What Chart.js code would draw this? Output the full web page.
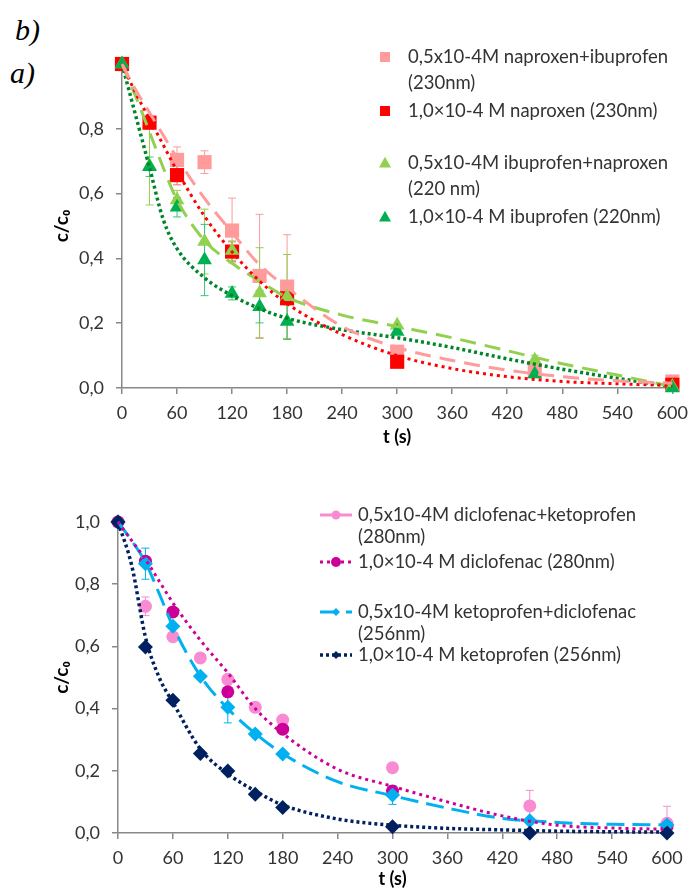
<!DOCTYPE html>
<html><head><meta charset="utf-8">
<script src="https://cdn.jsdelivr.net/npm/chart.js@4.4.1/dist/chart.umd.min.js"></script>
<style>
html,body{margin:0;padding:0;background:#fff;}
body{width:696px;height:888px;position:relative;overflow:hidden;}
#c1{position:absolute;left:0;top:0;}
#c2{position:absolute;left:0;top:460px;}
.lab{position:absolute;font-family:"Liberation Serif","Times New Roman",serif;font-style:italic;font-size:30px;line-height:30px;color:#000;}
</style></head><body>
<div class="lab" style="left:15px;top:15px">b)</div>
<div class="lab" style="left:10px;top:58px">a)</div>
<canvas id="c1" width="696" height="460"></canvas>
<canvas id="c2" width="696" height="428"></canvas>
<script>
// ---------- DATA ----------
const times = [0, 30, 60, 90, 120, 150, 180, 300, 450, 600];
const xTicks = [0, 60, 120, 180, 240, 300, 360, 420, 480, 540, 600];
const yTicks = [0.0, 0.2, 0.4, 0.6, 0.8, 1.0];
const trendT = [0, 15, 30, 45, 60, 90, 120, 150, 180, 240, 300, 360, 420, 480, 540, 600];

// top chart (a)
const napIbuMix    = [1.0, null, 0.704, 0.697, 0.486, 0.346, 0.313, 0.112, 0.052, 0.02];
const napIbuMixErr = [0, 0, 0.04, 0.035, 0.10, 0.19, 0.16, 0, 0, 0];
const naproxen     = [1.0, 0.819, 0.657, null, 0.421, null, 0.277, 0.081, null, 0.01];
const naproxenErr  = [0, 0.02, 0.03, 0, 0.03, 0, 0.02, 0, 0, 0];
const ibuNapMix    = [1.0, 0.685, 0.58, 0.452, 0.424, 0.293, 0.282, 0.194, 0.086, 0.005];
const ibuNapMixErr = [0, 0.12, 0.03, 0.10, 0.03, 0.14, 0.13, 0, 0.015, 0];
const ibuprofen    = [1.0, 0.683, 0.558, 0.395, 0.292, 0.251, 0.205, 0.174, 0.043, 0.0];
const ibuprofenErr = [0, 0.03, 0.03, 0.11, 0.02, 0.05, 0.055, 0, 0, 0];

const trendNapIbuMix = [1.0, 0.92, 0.85, 0.78, 0.71, 0.585, 0.48, 0.38, 0.31, 0.19, 0.125, 0.085, 0.055, 0.035, 0.022, 0.015];
const trendNaproxen  = [1.0, 0.91, 0.83, 0.75, 0.67, 0.53, 0.42, 0.33, 0.26, 0.165, 0.10, 0.06, 0.035, 0.02, 0.013, 0.008];
const trendIbuNapMix = [1.0, 0.90, 0.79, 0.68, 0.58, 0.455, 0.385, 0.33, 0.28, 0.225, 0.19, 0.155, 0.115, 0.075, 0.04, 0.005];
const trendIbuprofen = [1.0, 0.84, 0.68, 0.52, 0.43, 0.34, 0.285, 0.245, 0.215, 0.18, 0.155, 0.125, 0.09, 0.058, 0.03, 0.005];

const topLegend = [
  ["0,5x10-4M naproxen+ibuprofen", "(230nm)"],
  ["1,0×10-4 M naproxen (230nm)"],
  ["0,5x10-4M ibuprofen+naproxen", "(220 nm)"],
  ["1,0×10-4 M ibuprofen (220nm)"]
];

// bottom chart (b)
const dicKetMix    = [1.0, 0.729, 0.631, 0.563, 0.494, 0.404, 0.363, 0.21, 0.087, 0.031];
const dicKetMixErr = [0, 0.03, 0.01, 0, 0, 0, 0, 0, 0.05, 0.055];
const diclofenac   = [1.0, 0.874, 0.711, null, 0.454, null, 0.334, 0.135, null, 0.02];
const ketDicMix    = [1.0, 0.866, 0.665, 0.504, 0.404, 0.318, 0.254, 0.122, 0.039, 0.026];
const ketDicMixErr = [0, 0.05, 0, 0, 0.05, 0, 0, 0.03, 0, 0];
const ketoprofen   = [1.0, 0.598, 0.427, 0.256, 0.199, 0.125, 0.082, 0.02, 0.0, 0.0];

const trendDiclofenac = [1.0, 0.94, 0.88, 0.81, 0.74, 0.62, 0.515, 0.40, 0.32, 0.205, 0.15, 0.10, 0.055, 0.025, 0.016, 0.012];
const trendKetDicMix  = [1.0, 0.94, 0.87, 0.77, 0.665, 0.505, 0.40, 0.32, 0.255, 0.165, 0.12, 0.08, 0.047, 0.034, 0.028, 0.026];
const trendKetoprofen = [1.0, 0.86, 0.63, 0.50, 0.42, 0.27, 0.19, 0.135, 0.09, 0.045, 0.025, 0.015, 0.01, 0.006, 0.004, 0.003];

const bottomLegend = [
  ["0,5x10-4M diclofenac+ketoprofen", "(280nm)"],
  ["1,0×10-4 M diclofenac (280nm)"],
  ["0,5x10-4M ketoprofen+diclofenac", "(256nm)"],
  ["1,0×10-4 M ketoprofen (256nm)"]
];

// ---------- HELPERS ----------
function pts(xs, ys, es) {
  const out = [];
  xs.forEach((x, i) => { if (ys[i] !== null) out.push({x: x, y: ys[i], e: es ? es[i] : 0}); });
  return out;
}
const FONT = 'Lato, "Open Sans", sans-serif';
const GRAY = '#888888';
const TXT = '#333333';

function drawMarker(ctx, style, x, y, r, color) {
  ctx.save();
  ctx.fillStyle = color;
  ctx.beginPath();
  if (style === 'rect') {
    ctx.rect(x - r, y - r, 2 * r, 2 * r);
  } else if (style === 'triangle') {
    ctx.moveTo(x, y - r * 1.05); ctx.lineTo(x + r, y + r * 0.75); ctx.lineTo(x - r, y + r * 0.75); ctx.closePath();
  } else if (style === 'circle') {
    ctx.arc(x, y, r, 0, Math.PI * 2);
  } else if (style === 'rectRot') {
    ctx.moveTo(x, y - r); ctx.lineTo(x + r, y); ctx.lineTo(x, y + r); ctx.lineTo(x - r, y); ctx.closePath();
  }
  ctx.fill();
  ctx.restore();
}

const errorBars = {
  id: 'errorBars',
  beforeDatasetsDraw(chart) {
    const ctx = chart.ctx, xs = chart.scales.x, ys = chart.scales.y;
    ctx.save();
    ctx.lineWidth = 1;
    chart.data.datasets.forEach(ds => {
      if (!ds.errColor) return;
      ctx.strokeStyle = ds.errColor;
      ds.data.forEach(p => {
        if (!p.e) return;
        const px = xs.getPixelForValue(p.x);
        const t = ys.getPixelForValue(p.y + p.e), b = ys.getPixelForValue(Math.max(0, p.y - p.e));
        ctx.beginPath();
        ctx.moveTo(px, t); ctx.lineTo(px, b);
        ctx.moveTo(px - 4, t); ctx.lineTo(px + 4, t);
        ctx.moveTo(px - 4, b); ctx.lineTo(px + 4, b);
        ctx.stroke();
      });
    });
    ctx.restore();
  }
};

function makeLegend(cfg) {
  return {
    id: 'customLegend',
    afterDraw(chart) {
      const ctx = chart.ctx;
      ctx.save();
      ctx.font = cfg.font;
      ctx.fillStyle = TXT;
      ctx.textBaseline = 'middle';
      ctx.textAlign = 'left';
      cfg.items.forEach(it => {
        const ds = chart.data.datasets[it.ds];
        if (it.line) {
          const lds = chart.data.datasets[it.line];
          ctx.save();
          ctx.strokeStyle = lds.borderColor;
          ctx.lineWidth = lds.borderWidth;
          ctx.setLineDash(lds.borderDash || []);
          ctx.beginPath();
          ctx.moveTo(cfg.lineX0, it.y); ctx.lineTo(cfg.lineX1, it.y);
          ctx.stroke();
          ctx.restore();
        } else if (it.solid) {
          ctx.save();
          ctx.strokeStyle = ds.backgroundColor; ctx.lineWidth = 3;
          ctx.beginPath(); ctx.moveTo(cfg.lineX0, it.y); ctx.lineTo(cfg.lineX1, it.y); ctx.stroke();
          ctx.restore();
        }
        drawMarker(ctx, ds.pointStyle, cfg.markerX, it.y, it.r, ds.backgroundColor);
        ctx.fillStyle = TXT;
        it.text.forEach((t, k) => ctx.fillText(t, cfg.textX, it.y + k * cfg.gap));
      });
      ctx.restore();
    }
  };
}

function commaFmt(v) { return v.toFixed(1).replace('.', ','); }

function scalesCfg(opts) {
  return {
    x: {
      type: 'linear', min: 0, max: 600,
      afterBuildTicks: s => { s.ticks = xTicks.map(v => ({value: v})); },
      afterFit: s => { s.height = opts.xh; },
      ticks: {color: TXT, font: {family: FONT, size: 18}, padding: opts.xpad, maxRotation: 0, autoSkip: false},
      grid: {display: true, drawOnChartArea: false, drawTicks: true, tickLength: 6, color: GRAY, lineWidth: 1.5},
      border: {display: true, color: GRAY, width: 1.5},
      title: {display: true, text: 't (s)', color: '#000', font: {family: FONT, size: 18, weight: 'bold', lineHeight: 1}, padding: {top: 0, bottom: opts.xtitlePad}}
    },
    y: {
      type: 'linear', min: 0, max: 1.0,
      afterBuildTicks: s => { s.ticks = yTicks.map(v => ({value: v})); },
      afterFit: s => { s.width = opts.yw; },
      ticks: {color: TXT, font: {family: FONT, size: 18}, padding: 12,
        callback: v => (opts.hideTop && v >= 0.999) ? '' : commaFmt(v)},
      grid: {display: true, drawOnChartArea: false, drawTicks: true, tickLength: 6, color: GRAY, lineWidth: 1.5},
      border: {display: true, color: GRAY, width: 1.5},
      title: {display: true, text: 'c/c\u2080', color: '#000', font: {family: FONT, size: 19, weight: 'bold', lineHeight: 1.2}, padding: {top: opts.ytitlePad, bottom: 0}}
    }
  };
}

function markerDs(label, data, errs, color, style, r, order, errColor) {
  return {label, data: pts(times, data, errs), backgroundColor: color, borderColor: color, borderWidth: 0,
    pointStyle: style, pointRadius: r, pointHoverRadius: r, showLine: false, order, clip: false, errColor: errColor || null};
}
function trendDs(data, color, dash, width) {
  return {label: '', data: pts(trendT, data), borderColor: color, backgroundColor: color, borderWidth: width,
    borderDash: dash, borderCapStyle: 'butt', pointRadius: 0, showLine: true, cubicInterpolationMode: 'monotone', order: 0, fill: false, clip: 4};
}

Chart.defaults.font.family = FONT;

// ---------- TOP CHART ----------
const cPink = '#FF9B9B', cRed = '#FF0000', cLG = '#92D050', cDG = '#00B050', cDGline = '#00862A';
new Chart(document.getElementById('c1'), {
  type: 'scatter',
  data: {datasets: [
    markerDs(topLegend[0].join(' '), napIbuMix, napIbuMixErr, cPink, 'rect', 10, 4, cPink),
    markerDs(topLegend[1].join(' '), naproxen, naproxenErr, cRed, 'rect', 10, 3, '#FF6666'),
    markerDs(topLegend[2].join(' '), ibuNapMix, ibuNapMixErr, cLG, 'triangle', 8.5, 2, cLG),
    markerDs(topLegend[3].join(' '), ibuprofen, ibuprofenErr, cDG, 'triangle', 8.5, 1, '#3CC27A'),
    trendDs(trendNapIbuMix, cPink, [16, 9], 3),
    trendDs(trendNaproxen, cRed, [3, 4], 3),
    trendDs(trendIbuNapMix, cLG, [16, 9], 3),
    trendDs(trendIbuprofen, cDGline, [3, 3], 3.5)
  ]},
  options: {
    responsive: false, animation: false, events: [],
    layout: {padding: {left: 0, right: 17, top: 64, bottom: 0}},
    plugins: {legend: {display: false}, tooltip: {enabled: false}},
    scales: scalesCfg({xh: 72, yw: 122, xpad: 8, xtitlePad: 14, ytitlePad: 50, hideTop: true})
  },
  plugins: [errorBars, makeLegend({
    font: '18.5px ' + FONT, markerX: 385, textX: 408, gap: 26,
    items: [
      {ds: 0, y: 57, r: 5, text: topLegend[0]},
      {ds: 1, y: 111, r: 5, text: topLegend[1]},
      {ds: 2, y: 163, r: 6, text: topLegend[2]},
      {ds: 3, y: 217, r: 6, text: topLegend[3]}
    ]
  })]
});

// ---------- BOTTOM CHART ----------
const cLPink = '#F98BD2', cMag = '#CC0099', cBlue = '#00B0F0', cNavy = '#002060';
new Chart(document.getElementById('c2'), {
  type: 'scatter',
  data: {datasets: [
    markerDs(bottomLegend[0].join(' '), dicKetMix, dicKetMixErr, cLPink, 'circle', 6.5, 4, cLPink),
    markerDs(bottomLegend[1].join(' '), diclofenac, null, cMag, 'circle', 6.5, 3, null),
    markerDs(bottomLegend[2].join(' '), ketDicMix, ketDicMixErr, cBlue, 'rectRot', 7.5, 2, cBlue),
    markerDs(bottomLegend[3].join(' '), ketoprofen, null, cNavy, 'rectRot', 7.5, 1, null),
    trendDs(trendDiclofenac, cMag, [3, 4], 3),
    trendDs(trendKetDicMix, cBlue, [18, 8], 3),
    trendDs(trendKetoprofen, cNavy, [3, 3], 3.5)
  ]},
  options: {
    responsive: false, animation: false, events: [],
    layout: {padding: {left: 0, right: 29, top: 62, bottom: 0}},
    plugins: {legend: {display: false}, tooltip: {enabled: false}},
    scales: scalesCfg({xh: 55, yw: 118, xpad: 8, xtitlePad: 0, ytitlePad: 50, hideTop: false})
  },
  plugins: [errorBars, makeLegend({
    font: '18.5px ' + FONT, markerX: 336, textX: 358, gap: 22, lineX0: 320, lineX1: 352,
    items: [
      {ds: 0, solid: true, y: 55, r: 4.5, text: bottomLegend[0]},
      {ds: 1, line: 4, y: 102, r: 5, text: bottomLegend[1]},
      {ds: 2, line: 5, y: 152, r: 4, text: bottomLegend[2]},
      {ds: 3, line: 6, y: 195, r: 4, text: bottomLegend[3]}
    ]
  })]
});
</script>
</body></html>
